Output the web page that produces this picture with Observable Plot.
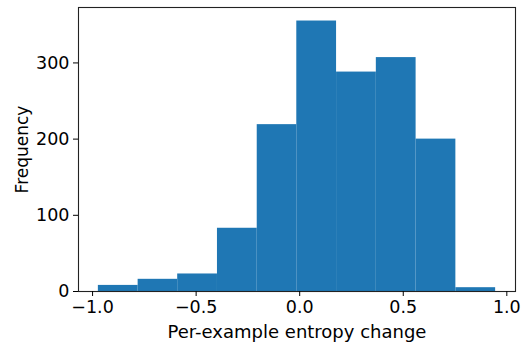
<!DOCTYPE html>
<html>
<head>
<meta charset="utf-8">
<script src="https://cdn.jsdelivr.net/npm/d3@7"></script>
<script src="https://cdn.jsdelivr.net/npm/@observablehq/plot@0.6"></script>
<style>
  html, body { margin: 0; padding: 0; background: white; }
  #chart svg { display: block; }
</style>
</head>
<body>
<div id="chart"></div>
<script>
// Histogram bins (left edges, right edges) and counts
const binStart = [-0.972, -0.780, -0.589, -0.397, -0.205, -0.014, 0.178, 0.370, 0.562, 0.754];
const binEnd   = [-0.780, -0.589, -0.397, -0.205, -0.014, 0.178, 0.370, 0.562, 0.754, 0.946];
const counts   = [8, 16, 23, 83, 219, 355, 288, 307, 200, 5];
const xTicks = [-1.0, -0.5, 0.0, 0.5, 1.0];
const yTicks = [0, 100, 200, 300];

const bins = counts.map((c, i) => ({x1: binStart[i], x2: binEnd[i], count: c}));

const tickFs = 17.5;
const chart = Plot.plot({
  width: 521,
  height: 346,
  marginLeft: 78,
  marginRight: 6,
  marginTop: 7,
  marginBottom: 55,
  style: {fontFamily: "DejaVu Sans", fontSize: tickFs + "px", background: "white", color: "black"},
  x: {domain: [-1.0679, 1.0419]},
  y: {domain: [0, 372.75]},
  marks: [
    Plot.rectY(bins, {x1: "x1", x2: "x2", y: "count", fill: "#1f77b4", inset: 0}),
    Plot.frame({stroke: "#222", strokeWidth: 1.1}),
    Plot.axisX({ticks: xTicks, tickFormat: d3.format(".1f"), tickSize: 5, tickPadding: 4, fontSize: tickFs, label: null}),
    Plot.axisY({ticks: yTicks, tickSize: 5, tickPadding: 4, fontSize: tickFs, label: null}),
    Plot.axisX({ticks: [], tickSize: 0, label: "Per-example entropy change", labelAnchor: "center",
      labelArrow: "none", labelOffset: 46, fontSize: 18}),
    Plot.axisY({ticks: [], tickSize: 0, label: "Frequency", labelAnchor: "center",
      labelArrow: "none", labelOffset: 63, fontSize: 17})
  ]
});
document.getElementById("chart").appendChild(chart);
</script>
</body>
</html>
